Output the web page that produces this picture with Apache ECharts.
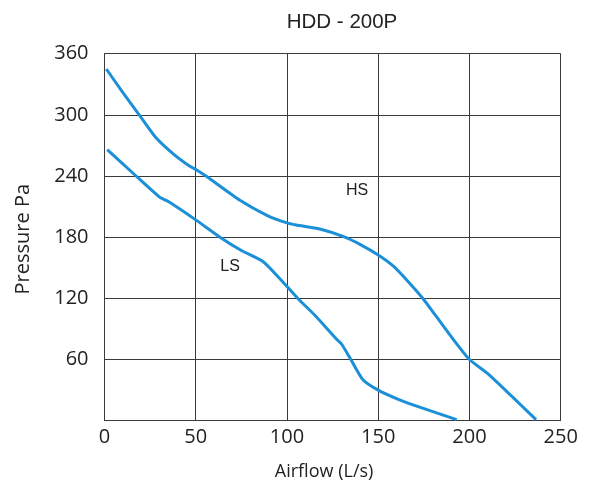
<!DOCTYPE html>
<html>
<head>
<meta charset="utf-8">
<script src="https://cdn.jsdelivr.net/npm/echarts@6/dist/echarts.min.js"></script>
<style>html,body{margin:0;padding:0;background:#fff}#c{width:589px;height:486px}</style>
</head>
<body>
<div id="c"></div>
<script>
var title = 'HDD - 200P';
var xName = 'Airflow (L/s)';
var yName = 'Pressure Pa';
var xTicks = [0, 50, 100, 150, 200, 250];
var yTicks = [0, 60, 120, 180, 240, 300, 360];
var hsName = 'HS';
var lsName = 'LS';
var hsData = [[1,345],[10,322],[19,300],[28,278],[37.5,262],[46.8,249.5],[50.5,246],[56,239.5],[74,216.5],[89,201.5],[100,194],[105,192],[118,188],[131,180.5],[140.5,172.5],[150,162.5],[158,152],[165.6,138],[174.7,119.4],[181.5,103],[191,80],[200,60],[210.5,45.5],[236.5,1]];
var lsData = [[1.5,266],[16.7,241],[30.4,219],[35,215],[50,197],[63.3,180],[75,167],[87,156],[96,139.5],[106.2,119.4],[115,104],[127.2,80],[130,75],[135,60],[141.5,40.5],[150,30],[161,21],[173.5,12.8],[193,1]];
var hsLabelAt = [138.4, 225.6];
var lsLabelAt = [68.8, 151];

var chart = echarts.init(document.getElementById('c'), null, {renderer: 'canvas'});
var gridColor = '#3a3a3a';
var lineColor = '#1b90d8';
function labelPoint(name, at) {
  return {
    symbol: 'circle', symbolSize: 0, silent: true,
    label: {show: true, position: 'inside', formatter: name, color: '#222', fontSize: 16, fontFamily: 'Liberation Sans'},
    data: [{coord: at}]
  };
}
chart.setOption({
  animation: false,
  title: {
    text: title, left: 337, top: 7, textAlign: 'center',
    textStyle: {fontFamily: 'Liberation Sans', fontSize: 20.5, fontWeight: 'normal', color: '#222'}
  },
  grid: {left: 104.5, right: 28.3, top: 53.7, bottom: 65.3, containLabel: false},
  xAxis: {
    type: 'value', min: xTicks[0], max: xTicks[xTicks.length - 1], interval: xTicks[1] - xTicks[0],
    name: xName, nameLocation: 'middle', nameGap: 42,
    nameTextStyle: {fontFamily: 'Open Sans', fontSize: 18, color: '#222', padding: [0, 17, 0, 0]},
    axisLine: {show: true, lineStyle: {color: gridColor, width: 1}},
    axisTick: {show: false},
    axisLabel: {fontFamily: 'Open Sans', fontSize: 20, color: '#222', margin: 7},
    splitLine: {show: true, lineStyle: {color: gridColor, width: 1}}
  },
  yAxis: {
    type: 'value', min: yTicks[0], max: yTicks[yTicks.length - 1], interval: yTicks[1] - yTicks[0],
    name: yName, nameLocation: 'middle', nameGap: 71, nameRotate: 90,
    nameTextStyle: {fontFamily: 'Open Sans', fontSize: 20, color: '#222', padding: [0, 4, 0, 0]},
    axisLine: {show: true, lineStyle: {color: gridColor, width: 1}},
    axisTick: {show: false},
    axisLabel: {fontFamily: 'Open Sans', fontSize: 20, color: '#222', margin: 16,
      formatter: function (v) { return v === 0 ? '' : String(v); }},
    splitLine: {show: true, lineStyle: {color: gridColor, width: 1}}
  },
  series: [
    {name: hsName, type: 'line', data: hsData, showSymbol: false, smooth: 0.2,
     lineStyle: {color: lineColor, width: 3}, itemStyle: {color: lineColor},
     markPoint: labelPoint(hsName, hsLabelAt)},
    {name: lsName, type: 'line', data: lsData, showSymbol: false, smooth: 0.2,
     lineStyle: {color: lineColor, width: 3}, itemStyle: {color: lineColor},
     markPoint: labelPoint(lsName, lsLabelAt)}
  ]
});
</script>
</body>
</html>
